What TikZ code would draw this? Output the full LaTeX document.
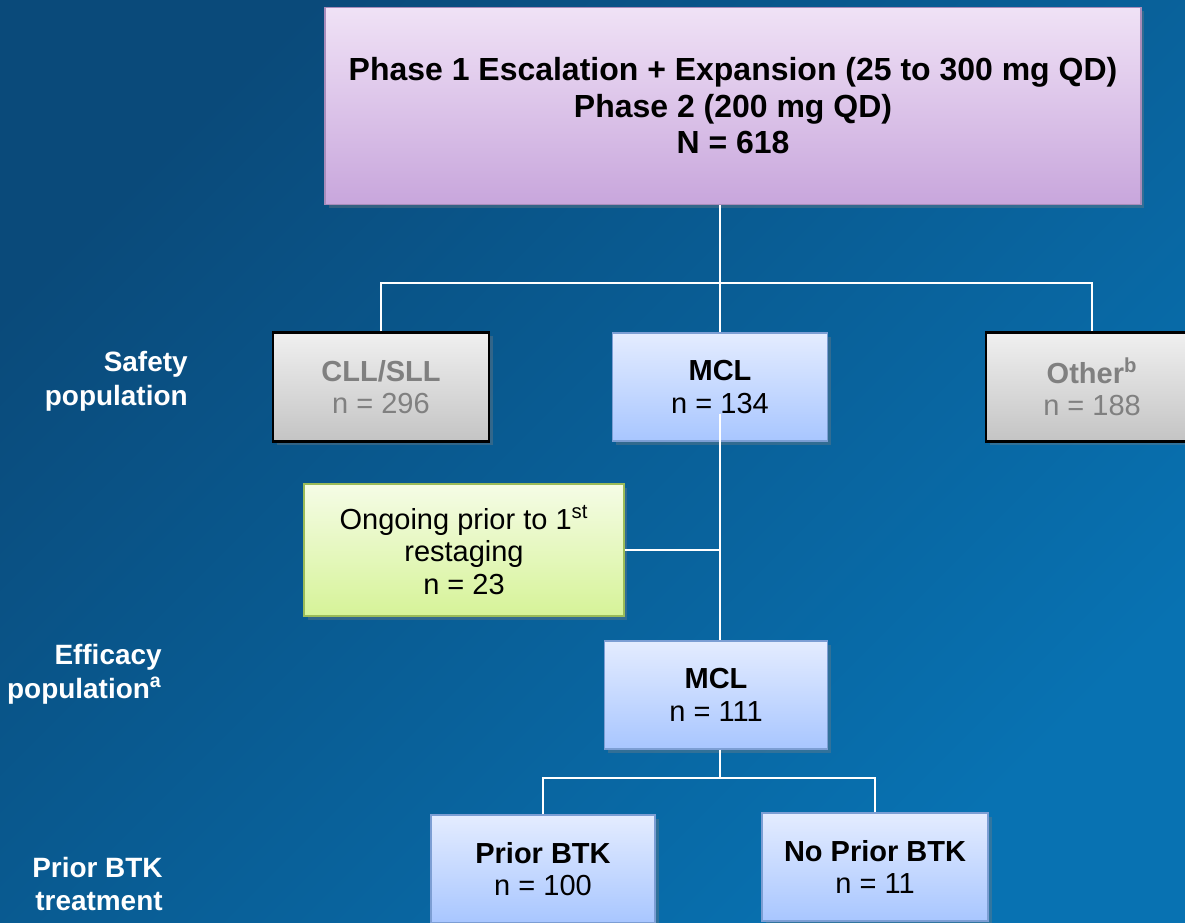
\documentclass[tikz,border=0pt]{standalone}
\usepackage{fontspec}
\setmainfont{Liberation Sans}
\usepackage{tikz}
\usetikzlibrary{shadows}
\usetikzlibrary{calc}
\definecolor{bgdark}{RGB}{10,74,122}
\definecolor{bglight}{RGB}{8,114,178}
\definecolor{violettop}{RGB}{240,226,246}
\definecolor{violetbot}{RGB}{200,166,220}
\definecolor{violetline}{RGB}{168,140,186}
\definecolor{greytop}{RGB}{240,240,240}
\definecolor{greybot}{RGB}{196,196,196}
\definecolor{greytext}{RGB}{128,128,128}
\definecolor{bluetop}{RGB}{228,236,255}
\definecolor{bluebot}{RGB}{168,198,255}
\definecolor{blueline}{RGB}{124,158,212}
\definecolor{greentop}{RGB}{245,252,230}
\definecolor{greenbot}{RGB}{214,243,152}
\definecolor{greenline}{RGB}{155,187,89}
\tikzset{
  box/.style={align=center, inner sep=0pt, line width=0.8pt,
    font=\fontsize{16.5}{18.4}\selectfont,
    drop shadow={opacity=0.35, shadow xshift=2pt, shadow yshift=-2pt}},
  phasebox/.style={box, draw=violetline, top color=violettop, bottom color=violetbot,
    font=\fontsize{18.2}{20.8}\selectfont\bfseries},
  greybox/.style={box, draw=black, line width=1.3pt, top color=greytop,
    bottom color=greybot, text=greytext},
  bluebox/.style={box, draw=blueline, top color=bluetop, bottom color=bluebot},
  greenbox/.style={box, draw=greenline, top color=greentop, bottom color=greenbot},
  sidelabel/.style={align=right, anchor=east, text=white, inner sep=0pt,
    font=\fontsize{15.9}{19.3}\selectfont\bfseries},
  link/.style={draw=white, line width=1pt}
}

\begin{document}
\begin{tikzpicture}[x=0.02cm, y=-0.02cm]
% background
\useasboundingbox (0,0) rectangle (1185,922);
\shade[top color=bgdark, bottom color=bglight, shading angle=45] (0,0) rectangle (1185,922);
\clip (0,0) rectangle (1185,922);
% boxes
\node[phasebox, minimum width=16.32cm, minimum height=3.94cm] (phase) at (733,106)
  {Phase 1 Escalation + Expansion (25 to 300 mg QD)\\Phase 2 (200 mg QD)\\N = 618};
\node[greybox, minimum width=4.32cm, minimum height=2.18cm] (cll) at (381,387)
  {\textbf{CLL/SLL}\\n = 296};
\node[bluebox, minimum width=4.3cm, minimum height=2.16cm] (mclsafe) at (720,387)
  {\textbf{MCL}\\n = 134};
\node[greybox, minimum width=4.24cm, minimum height=2.18cm] (other) at (1092,387)
  {\textbf{Other\textsuperscript{b}}\\n = 188};
\node[greenbox, minimum width=6.4cm, minimum height=2.64cm] (ongoing) at (464,550)
  {Ongoing prior to 1\textsuperscript{st}\\restaging\\n = 23};
\node[bluebox, minimum width=4.46cm, minimum height=2.16cm] (mcleff) at (716,695)
  {\textbf{MCL}\\n = 111};
\node[bluebox, minimum width=4.48cm, minimum height=2.16cm] (prior) at (543,869)
  {\textbf{Prior BTK}\\n = 100};
\node[bluebox, minimum width=4.52cm, minimum height=2.16cm] (noprior) at (875,867)
  {\textbf{No Prior BTK}\\n = 11};
% row labels
\node[sidelabel] (safety) at (188,381) {Safety\\population};
\node[sidelabel] (efficacy) at (162,674) {Efficacy\\population\textsuperscript{a}};
\node[sidelabel] (btk) at (163,884) {Prior BTK\\treatment};
% connectors
\coordinate (split1) at (720,283);
\coordinate (split2) at (720,778);
\draw[link] (split1 |- phase.south) -- (split1);
\draw[link] (cll.north) |- (split1) -| (other.north);
\draw[link] (split1) -- (mclsafe.north);
\draw[link] ([yshift=0.56cm]mclsafe.south) -- (mclsafe.south |- mcleff.north);
\draw[link] (ongoing.east) -- (ongoing.east -| mclsafe.south);
\draw[link] (split2 |- mcleff.south) -- (split2);
\draw[link] (prior.north) |- (split2) -| (noprior.north);
\end{tikzpicture}
\end{document}
